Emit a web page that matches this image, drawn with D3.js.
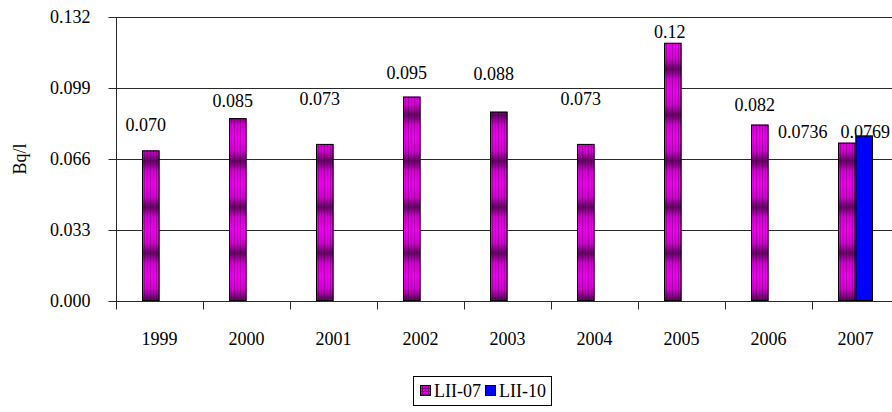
<!DOCTYPE html>
<html>
<head>
<meta charset="utf-8">
<script src="https://cdn.jsdelivr.net/npm/d3@7"></script>
<style>
  html, body { margin: 0; padding: 0; background: #fff; }
  svg { display: block; }
  svg text { font-family: "Liberation Serif", "Times New Roman", serif; }
</style>
</head>
<body>
<svg id="chart" width="892" height="412"></svg>
<script>
// Annual activity per sampling point, Bq/l
const years = ["1999", "2000", "2001", "2002", "2003", "2004", "2005", "2006", "2007"];
const seriesNames = ["LII-07", "LII-10"];
const lii07 = [0.070, 0.085, 0.073, 0.095, 0.088, 0.073, 0.12, 0.082, 0.0736];
const lii10 = [null, null, null, null, null, null, null, null, 0.0769];
const lii07Labels = ["0.070", "0.085", "0.073", "0.095", "0.088", "0.073", "0.12", "0.082", "0.0736"];
const lii10Labels = [null, null, null, null, null, null, null, null, "0.0769"];
const yTicks = [0, 0.033, 0.066, 0.099, 0.132];
const yTitle = "Bq/l";

const svg = d3.select("#chart");
const M = { left: 116, top: 17, bottom: 301, right: 899 };
const FONT = 18;
const SERIF = "Liberation Serif";

// ---- fills ----
const defs = svg.append("defs");
const grad = defs.append("linearGradient")
  .attr("id", "band")
  .attr("gradientUnits", "userSpaceOnUse")
  .attr("x1", 0).attr("x2", 0).attr("y1", 0).attr("y2", 46)
  .attr("spreadMethod", "repeat");
[[0, "#ee00ee"], [0.28, "#d400d4"], [0.5, "#640064"], [0.72, "#d400d4"], [1, "#ee00ee"]]
  .forEach(([o, c]) => grad.append("stop").attr("offset", o).attr("stop-color", c));

const stripes = defs.append("pattern")
  .attr("id", "stripes").attr("patternUnits", "userSpaceOnUse")
  .attr("width", 3).attr("height", 10);
stripes.append("rect").attr("x", 0).attr("y", 0).attr("width", 1).attr("height", 10)
  .attr("fill", "#3a003a").attr("opacity", 0.35);

const grid = defs.append("pattern")
  .attr("id", "legendGrid").attr("patternUnits", "userSpaceOnUse")
  .attr("width", 3).attr("height", 3);
grid.append("rect").attr("width", 3).attr("height", 3).attr("fill", "#e000e0");
grid.append("rect").attr("width", 1).attr("height", 3).attr("fill", "#800080");
grid.append("rect").attr("width", 3).attr("height", 1).attr("fill", "#800080");

// ---- scales ----
const x = d3.scaleBand().domain(years).range([M.left, M.right]).paddingInner(0).paddingOuter(0);
const xs = d3.scaleBand().domain(seriesNames).range([0, x.bandwidth()]).paddingInner(0).paddingOuter(1.486);
const y = d3.scaleLinear().domain([0, 0.132]).range([M.bottom, M.top]);

// ---- gridlines ----
svg.append("g").selectAll("line").data(yTicks.filter(d => d > 0)).join("line")
  .attr("x1", M.left).attr("x2", M.right)
  .attr("y1", d => Math.round(y(d)) + 0.5).attr("y2", d => Math.round(y(d)) + 0.5)
  .attr("stroke", "#2a2a2a").attr("stroke-width", 1.2);

// ---- bars ----
const rows = years.map((yr, i) => ({ yr, i, vals: [lii07[i], lii10[i]] }));
const bars = [];
rows.forEach(r => r.vals.forEach((v, s) => { if (v != null) bars.push({ yr: r.yr, i: r.i, s, v }); }));

const gBars = svg.append("g");
gBars.selectAll("rect.base").data(bars).join("rect")
  .attr("class", "base")
  .attr("x", d => x(d.yr) + xs(seriesNames[d.s]))
  .attr("width", xs.bandwidth())
  .attr("y", d => y(d.v))
  .attr("height", d => y(0) - y(d.v))
  .attr("fill", d => d.s === 0 ? "url(#band)" : "#0000ff");
gBars.selectAll("rect.tex").data(bars.filter(d => d.s === 0)).join("rect")
  .attr("class", "tex")
  .attr("x", d => x(d.yr) + xs(seriesNames[d.s]))
  .attr("width", xs.bandwidth())
  .attr("y", d => y(d.v))
  .attr("height", d => y(0) - y(d.v))
  .attr("fill", "url(#stripes)");
gBars.selectAll("rect.edge").data(bars).join("rect")
  .attr("class", "edge")
  .attr("x", d => x(d.yr) + xs(seriesNames[d.s]) + 0.5)
  .attr("width", xs.bandwidth() - 1)
  .attr("y", d => y(d.v) + 0.5)
  .attr("height", d => y(0) - y(d.v) - 1)
  .attr("fill", "none").attr("stroke", "#000").attr("stroke-width", 1);

// ---- value labels (hand-placed offsets from the bar top) ----
const labelNudge = {
  "0-0": [-5, 19], "1-0": [-5, 11], "2-0": [-5, 39], "3-0": [-5, 18], "4-0": [-5, 32],
  "5-0": [-5, 39], "6-0": [-3, 5], "7-0": [-5, 14], "8-0": [-44, 5], "8-1": [1, -2]
};
svg.append("g").selectAll("text").data(bars).join("text")
  .attr("x", d => x(d.yr) + xs(seriesNames[d.s]) + xs.bandwidth() / 2 + labelNudge[d.i + "-" + d.s][0])
  .attr("y", d => y(d.v) - labelNudge[d.i + "-" + d.s][1])
  .attr("text-anchor", "middle")
  .attr("font-family", SERIF)
  .attr("font-size", FONT)
  .attr("fill", "#000")
  .text(d => d.s === 0 ? lii07Labels[d.i] : lii10Labels[d.i]);

// ---- y axis ----
const yAxis = svg.append("g").attr("transform", `translate(${M.left + 0.5},0)`)
  .call(d3.axisLeft(y).tickValues(yTicks).tickFormat(d3.format(".3f")).tickSize(8).tickPadding(18));
yAxis.select(".domain").attr("d", `M0,${M.top}V${M.bottom + 1}`).attr("stroke", "#2a2a2a");
yAxis.selectAll(".tick line").attr("stroke", "#2a2a2a");
yAxis.selectAll(".tick text").attr("font-size", FONT).attr("font-family", SERIF).attr("fill", "#000");

svg.append("text")
  .attr("transform", `translate(26,${(M.top + M.bottom) / 2}) rotate(-90)`)
  .attr("text-anchor", "middle").attr("font-family", SERIF).attr("font-size", FONT).text(yTitle);

// ---- x axis ----
const xAxis = svg.append("g").attr("transform", `translate(0,${Math.round(y(0)) + 0.5})`)
  .call(d3.axisBottom(x).tickSize(0).tickPadding(31));
xAxis.select(".domain").attr("d", `M${M.left},0H${M.right}`).attr("stroke", "#2a2a2a");
xAxis.selectAll(".tick text").attr("font-size", FONT).attr("font-family", SERIF).attr("fill", "#000");
const bounds = years.map(yr => x(yr)).concat([M.right]);
xAxis.append("g").selectAll("line").data(bounds).join("line")
  .attr("x1", d => Math.round(d) + 0.5).attr("x2", d => Math.round(d) + 0.5)
  .attr("y1", 0).attr("y2", 8).attr("stroke", "#2a2a2a");

// ---- legend ----
const lg = svg.append("g").attr("transform", "translate(413,376)");
const box = lg.append("rect").attr("x", 0.5).attr("y", 0.5).attr("height", 29)
  .attr("fill", "#fff").attr("stroke", "#000");
let cx = 7;
seriesNames.forEach((name, s) => {
  lg.append("rect").attr("x", cx + 0.5).attr("y", 9.5).attr("width", 10).attr("height", 10)
    .attr("fill", s === 0 ? "url(#legendGrid)" : "#0000ff").attr("stroke", "#000");
  const t = lg.append("text").attr("x", cx + 14).attr("y", 21)
    .attr("font-family", SERIF).attr("font-size", FONT).text(name);
  cx += 14 + t.node().getComputedTextLength() + 4;
});
box.attr("width", cx + 1);
</script>
</body>
</html>
